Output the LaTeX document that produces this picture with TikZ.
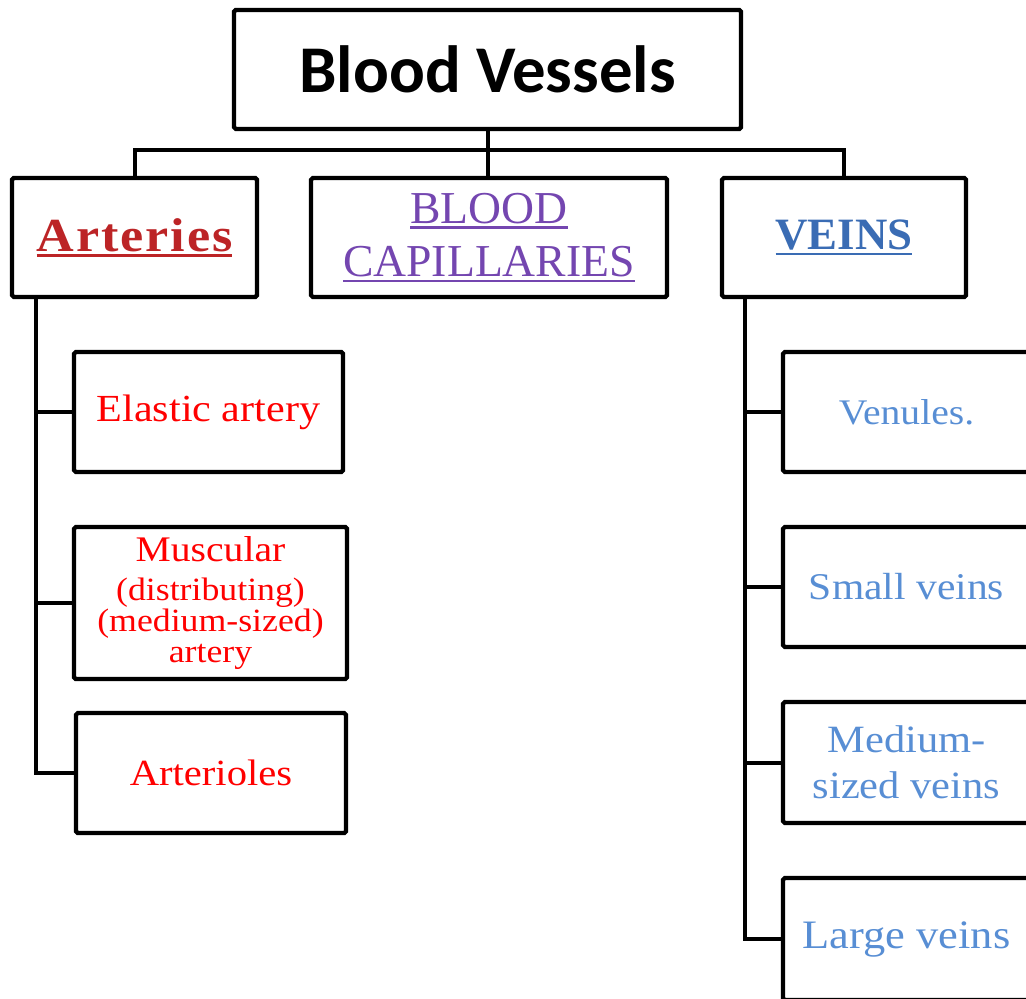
\documentclass[tikz,border=0pt]{standalone}
\usepackage{fontspec}
\setmainfont{Liberation Serif}
\newfontfamily\titlefont{Carlito}
\newfontfamily\boxfont{Liberation Serif}[FakeStretch=1.1]
\newfontfamily\headfont{Liberation Serif}[FakeStretch=1.1,LetterSpace=4]

\definecolor{arteryred}{RGB}{188,36,38}
\definecolor{capviolet}{RGB}{116,70,176}
\definecolor{veinblue}{RGB}{58,108,180}
\definecolor{redtext}{RGB}{255,0,0}
\definecolor{bluetext}{RGB}{88,142,212}

% underline drawn as a rule below the word
\newcommand{\hdline}[1]{\setbox0\hbox{#1}\rlap{\usebox0}\rule[-0.11cm]{\wd0}{0.045cm}}
\newcommand{\fs}[1]{\fontsize{#1}{#1}\selectfont}

\tikzset{
  box/.style={draw, line width=0.085cm, rounded corners=1pt, align=center, inner sep=0pt},
  link/.style={line width=0.08cm}
}

\begin{document}
\begin{tikzpicture}[x=0.02cm, y=-0.02cm]
        \useasboundingbox (0,0) rectangle (1026,999);
        \clip (0,0) rectangle (1026,999);

        % top
        \node[box, minimum width=507*0.02cm, minimum height=119*0.02cm, font=\titlefont\bfseries\fs{38}] (vessels) at (487.5,69.5) {Blood Vessels};

        % three groups
        \node[box, minimum width=245*0.02cm, minimum height=119*0.02cm, font=\headfont\bfseries\fs{27}, text=arteryred] (arteries) at (134.5,237.5) {\hdline{Arteries}};
        \node[box, minimum width=356*0.02cm, minimum height=119*0.02cm, font=\rmfamily\fs{26}, text=capviolet] (capillaries) at (489,237.5) {\hdline{BLOOD}\\[0.16cm]\hdline{CAPILLARIES}};
        \node[box, minimum width=244*0.02cm, minimum height=119*0.02cm, font=\rmfamily\bfseries\fs{25.5}, text=veinblue] (veins) at (844,237.5) {\hdline{VEINS}};

        % arteries
        \node[box, minimum width=269*0.02cm, minimum height=120*0.02cm, font=\boxfont\fs{21.8}, text=redtext] (elastic) at (208.5,412) {Elastic artery};
        \node[box, minimum width=273*0.02cm, minimum height=152*0.02cm, font=\boxfont, text=redtext] (muscular) at (210.5,603) {\fs{20.5}Muscular\\[0.3cm]\fontsize{18.5}{16}\selectfont(distributing)\\\fontsize{18.5}{16}\selectfont(medium-sized)\\[0.08cm]\fontsize{18.5}{16}\selectfont artery};
        \node[box, minimum width=270*0.02cm, minimum height=120*0.02cm, font=\boxfont\fs{21}, text=redtext] (arterioles) at (211,773) {Arterioles};

        % veins
        \node[box, minimum width=247*0.02cm, minimum height=120*0.02cm, font=\boxfont\fs{20.5}, text=bluetext] (venules) at (906.5,412) {Venules.};
        \node[box, minimum width=247*0.02cm, minimum height=120*0.02cm, font=\boxfont\fs{21.5}, text=bluetext] (small) at (906.5,587) {Small veins};
        \node[box, minimum width=247*0.02cm, minimum height=121*0.02cm, font=\boxfont\fs{22}, text=bluetext] (medium) at (906.5,762.5) {Medium-\\[0.14cm]sized veins};
        \node[box, minimum width=247*0.02cm, minimum height=122*0.02cm, font=\boxfont\fs{23}, text=bluetext] (large) at (906.5,939) {Large veins};

        % connectors
        \coordinate (bus) at (487.5,150);
        \coordinate (aspine) at (36,297);
        \coordinate (vspine) at (745,297);
        \draw[link] (vessels.south) -- (vessels.south |- capillaries.north);
        \draw[link] (arteries.north) |- (bus) -| (veins.north);
        \draw[link] (aspine) |- (elastic.west);
        \draw[link] (aspine) |- (muscular.west);
        \draw[link] (aspine) |- (arterioles.west);
        \draw[link] (vspine) |- (venules.west);
        \draw[link] (vspine) |- (small.west);
        \draw[link] (vspine) |- (medium.west);
        \draw[link] (vspine) |- (large.west);
      \end{tikzpicture}
\end{document}
